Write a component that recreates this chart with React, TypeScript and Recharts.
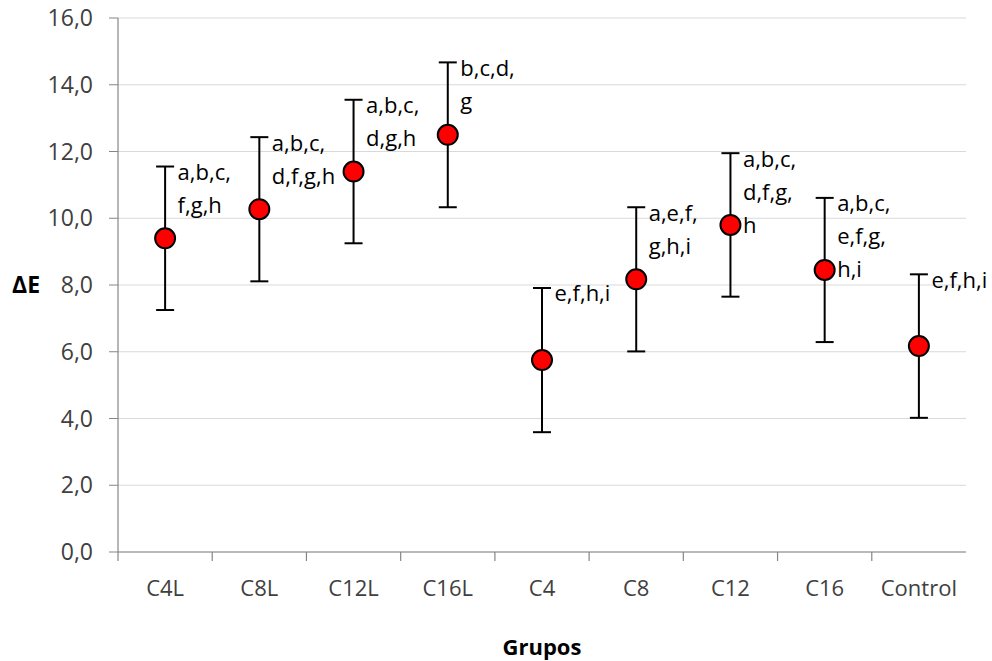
import React from 'react';
import { ComposedChart, Scatter, XAxis, YAxis, CartesianGrid, ErrorBar, LabelList } from 'recharts';

const categories = ['C4L', 'C8L', 'C12L', 'C16L', 'C4', 'C8', 'C12', 'C16', 'Control'];
const means = [9.4, 10.27, 11.4, 12.5, 5.75, 8.17, 9.8, 8.45, 6.17];
const errors = [2.15, 2.16, 2.15, 2.17, 2.16, 2.16, 2.15, 2.16, 2.15];
const letters = [
  ['a,b,c,', 'f,g,h'],
  ['a,b,c,', 'd,f,g,h'],
  ['a,b,c,', 'd,g,h'],
  ['b,c,d,', 'g'],
  ['e,f,h,i'],
  ['a,e,f,', 'g,h,i'],
  ['a,b,c,', 'd,f,g,', 'h'],
  ['a,b,c,', 'e,f,g,', 'h,i'],
  ['e,f,h,i'],
];
const yTicks = [0, 2, 4, 6, 8, 10, 12, 14, 16];

const W = 992;
const H = 661;
const MARGIN = { top: 18, right: 26, bottom: 0, left: 0 };
const Y_AXIS_W = 118;
const X_AXIS_H = 109;
const PLOT_W = W - MARGIN.right - Y_AXIS_W;
const BAND = PLOT_W / categories.length;
const FONT = '"Open Sans", "Noto Sans", sans-serif';
const FS = 22;

const data = categories.map((c, i) => ({
  cat: c,
  mean: means[i],
  err: errors[i],
  top: means[i] + errors[i],
  lines: letters[i],
}));

const XTick = (props: any) => {
  const { x, y, payload } = props;
  return (
    <g>
      <line x1={x - BAND / 2} x2={x - BAND / 2} y1={y} y2={y + 9} stroke="#868686" strokeWidth={1.2} />
      <text x={x} y={y + 35} textAnchor="middle" dominantBaseline="central" fill="#404040" fontSize={FS} fontFamily={FONT}>
        {payload.value}
      </text>
    </g>
  );
};

const LetterLabel = (props: any) => {
  const { x, y, index } = props;
  const lines = data[index].lines;
  return (
    <g>
      {lines.map((l: string, k: number) => (
        <text key={k} x={x + 17} y={y + 9 + k * 33} dominantBaseline="central" fill="#000" fontSize={FS} fontFamily={FONT}>
          {l}
        </text>
      ))}
    </g>
  );
};

const Dot = (props: any) => {
  const { cx, cy } = props;
  return <circle cx={cx} cy={cy} r={10} fill="#ff0000" stroke="#000" strokeWidth={2} />;
};

const NoShape = () => <g />;

export default function App() {
  return (
    <div style={{ position: 'absolute', left: 0, top: 0, background: '#fff' }}>
      <ComposedChart width={W} height={H} data={data} margin={MARGIN}>
        <CartesianGrid horizontal vertical={false} stroke="#d9d9d9" strokeWidth={1.2} />
        <XAxis
          dataKey="cat"
          type="category"
          scale="band"
          height={X_AXIS_H}
          axisLine={{ stroke: '#868686', strokeWidth: 1.2 }}
          tickLine={false}
          tickSize={0}
          tickMargin={0}
          tick={<XTick />}
          interval={0}
          label={{ value: 'Grupos', position: 'insideBottom', offset: 6, fill: '#000', fontSize: FS, fontWeight: 700, fontFamily: FONT }}
        />
        <YAxis
          type="number"
          domain={[0, 16]}
          ticks={yTicks}
          width={Y_AXIS_W}
          axisLine={{ stroke: '#868686', strokeWidth: 1.2 }}
          tickLine={{ stroke: '#868686' }}
          tickSize={9}
          tickMargin={16}
          tickFormatter={(v: number) => v.toFixed(1).replace('.', ',')}
          tick={{ fill: '#404040', fontSize: 23, fontFamily: FONT }}
          label={{ value: 'ΔE', position: 'insideLeft', offset: 12, fill: '#000', fontSize: 23, fontWeight: 700, fontFamily: FONT }}
        />
        <Scatter dataKey="mean" shape={<Dot />} isAnimationActive={false}>
          <ErrorBar dataKey="err" direction="y" width={9} stroke="#000" strokeWidth={2} isAnimationActive={false} />
        </Scatter>
        <Scatter dataKey="top" shape={<NoShape />} isAnimationActive={false}>
          <LabelList dataKey="cat" content={<LetterLabel />} />
        </Scatter>
      </ComposedChart>
    </div>
  );
}
